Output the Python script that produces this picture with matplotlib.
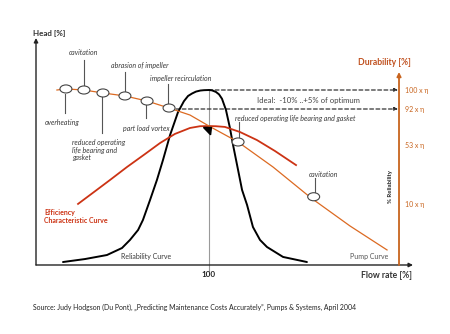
import matplotlib
matplotlib.use("Agg")
import matplotlib.pyplot as plt
from matplotlib.patches import Ellipse, Polygon

plt.rcParams['font.family'] = ['Lato', 'DejaVu Sans']

# ---------------- data (flow rate % , head / durability %) ----------------
pump_flow = [12.1, 17.3, 27.7, 38.7, 51.4, 64.2, 76.9, 89.0, 100.0, 116.8, 137.0, 159.0, 181.5, 202.9]
pump_head = [100.0, 100.6, 100.0, 98.3, 96.6, 93.7, 89.7, 85.7, 79.4, 70.3, 56.0, 38.3, 22.3, 8.6]

eff_flow = [24.3, 33.5, 42.8, 52.6, 63.0, 71.7, 80.3, 89.0, 94.8, 100.0, 104.0, 109.2, 117.9, 127.7, 138.2, 150.3]
eff_val = [34.9, 41.7, 48.6, 56.0, 63.4, 69.7, 74.9, 78.3, 79.3, 79.4, 79.3, 78.9, 76.0, 71.4, 65.1, 57.1]

rel_flow = [15.6, 28.3, 41.0, 49.7, 54.3, 59.0, 61.8, 65.9, 69.9, 73.4, 77.5, 82.1, 85.5, 87.9, 90.2, 92.5, 95.0,
            97.1, 100.0, 101.7, 104.0, 105.8, 107.5, 109.8, 112.1, 113.9, 116.8, 119.1, 122.0, 125.4, 129.5,
            133.5, 142.8, 156.6]
rel_val = [1.7, 3.4, 5.7, 9.7, 14.3, 20.0, 25.7, 37.1, 48.6, 60.0, 74.3, 87.4, 93.6, 96.6, 98.0, 99.1, 99.7,
           99.9, 100.0, 99.8, 98.9, 97.5, 95.0, 88.6, 78.3, 68.6, 54.3, 42.9, 34.3, 21.7, 14.3,
           10.3, 4.6, 1.7]

fail_flow = [17.3, 27.7, 38.7, 51.4, 64.2, 76.9, 116.8, 160.5]
fail_head = [100.6, 100.0, 98.3, 96.6, 93.7, 89.7, 70.3, 39.0]

dur_labels = ["100 x η", "92 x η", "53 x η", "10 x η"]

C_PUMP = "#dc6a22"
C_EFF = "#cc3314"
C_AX2 = "#c8641e"
C_TXT = "#3a3a3a"

fig = plt.figure(figsize=(4.5, 3.34), dpi=100)
ax = fig.add_axes([0, 0, 1, 1])
ax.set_xlim(-20.81, 239.3)
ax.set_ylim(-39.43, 151.43)
ax.axis('off')


def P(px, py):
    """pixel-layout position -> data coordinates (for layout only)"""
    return ((px - 36) / 1.73, (265 - py) / 1.75)


def seg(p1, p2, **kw):
    a = P(*p1); b = P(*p2)
    ax.plot([a[0], b[0]], [a[1], b[1]], **kw)


def arrow(p_from, p_to, color, lw=1.0, ls='-', ms=6):
    ax.annotate('', xy=P(*p_to), xytext=P(*p_from),
                arrowprops=dict(arrowstyle='-|>', color=color, lw=lw, linestyle=ls,
                                mutation_scale=ms, shrinkA=0, shrinkB=0))


def txt(px, py, s, **kw):
    x, y = P(px, py)
    ax.text(x, y, s, **kw)

# axes
arrow((36, 265), (36, 38), '#222222', lw=1.0)
arrow((36, 265), (413, 265), '#222222', lw=1.0)
arrow((399, 265), (399, 72), C_AX2, lw=1.3)

# gray 100 line
seg((209, 90), (209, 271), color='#9a9a9a', lw=0.8)

# dashed arrows
arrow((209, 90), (398, 90), '#333333', lw=0.9, ls=(0, (3, 2)), ms=5)
arrow((176, 109), (398, 109), '#333333', lw=0.9, ls=(0, (3, 2)), ms=5)

# curves
ax.plot(rel_flow, rel_val, color='black', lw=1.4, solid_capstyle='round', solid_joinstyle='round', zorder=3)
ax.plot(eff_flow, eff_val, color=C_EFF, lw=1.3, solid_joinstyle='round', zorder=3)
ax.plot(pump_flow, pump_head, color=C_PUMP, lw=0.9, solid_joinstyle='round', zorder=4)

# triangle marker at optimum
i_opt = eff_flow.index(100.0)
ox, oy = eff_flow[i_opt], eff_val[i_opt]
tri = Polygon([(ox - 3.2, oy - 0.8), (ox + 1.4, oy - 0.8), (ox + 0.9, oy - 5.0)],
              closed=True, color='black', zorder=5)
ax.add_patch(tri)

# failure mode ellipses
for fx, fy in zip(fail_flow, fail_head):
    ax.add_patch(Ellipse((fx, fy), 6.9, 4.6, facecolor='white', edgecolor='#444444', lw=0.8, zorder=6))

# leader lines
lk = dict(color='#555555', lw=0.8, zorder=2)
seg((84, 60), (84, 86), **lk)
seg((125, 72), (125, 92), **lk)
seg((168, 84), (168, 104), **lk)
seg((65, 94), (65, 113), **lk)
seg((102, 97), (102, 133), **lk)
seg((146, 105), (146, 118), **lk)
seg((239, 122), (239, 138), **lk)
seg((315, 178), (315, 193), **lk)

ik = dict(fontsize=5, style='italic', color=C_TXT, va='center')
txt(83, 52, "cavitation", ha='center', **ik)
txt(140, 65, "abrasion of impeller", ha='center', **ik)
txt(181, 78, "impeller recirculation", ha='center', **ik)
txt(62, 122, "overheating", ha='center', **ik)
txt(146, 128, "part load vortex", ha='center', **ik)
txt(72, 150, "reduced operating\nlife bearing and\ngasket", ha='left', linespacing=1.15, **ik)
txt(235, 118, "reduced operating life bearing and gasket", ha='left', **ik)
txt(323, 175, "cavitation", ha='center', **ik)

txt(308, 100, "Ideal:  -10% ..+5% of optimum", ha='center', va='center', fontsize=5.6, color='#444444')

txt(33, 33, "Head [%]", ha='left', va='center', fontsize=5.8, fontweight='bold', color='#333333')
txt(384, 62, "Durability [%]", ha='center', va='center', fontsize=6.2, fontweight='bold', color='#c0501e')
txt(386, 276, "Flow rate [%]", ha='center', va='center', fontsize=6.2, fontweight='bold', color='#333333')
txt(209, 275, "100", ha='center', va='center', fontsize=5.8, fontweight='bold', color='#222222')

for lab, py in zip(dur_labels, [90, 109, 145, 205]):
    txt(405, py, lab, ha='left', va='center', fontsize=5, color=C_AX2)

txt(390, 187, "% Reliability", ha='center', va='center', fontsize=4.3, rotation=90,
    fontweight='bold', color='#222222')

txt(44, 216.5, "Efficiency\nCharacteristic Curve", ha='left', va='center', fontsize=5,
    fontweight='bold', color=C_EFF, linespacing=1.3)
txt(146, 257, "Reliability Curve", ha='center', va='center', fontsize=5, color=C_TXT)
txt(369, 257, "Pump Curve", ha='center', va='center', fontsize=5, color='#555555')

txt(33, 307, "Source: Judy Hodgson (Du Pont), \u201ePredicting Maintenance Costs Accurately\u201d, Pumps & Systems, April 2004",
    ha='left', va='center', fontsize=4.95, color='#222222')

fig.savefig("out.png", dpi=100, facecolor='white')
